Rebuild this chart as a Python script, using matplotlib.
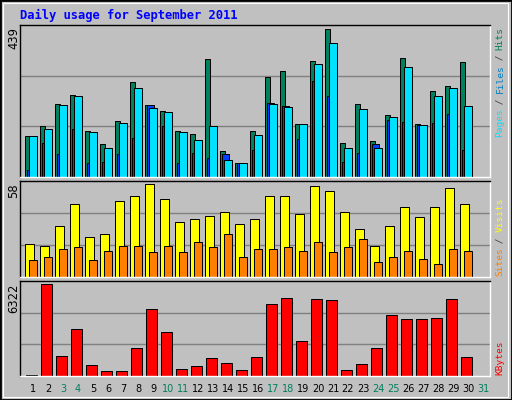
import matplotlib
matplotlib.use("Agg")
import matplotlib.pyplot as plt
from matplotlib.patches import Rectangle
import numpy as np

days = list(range(1, 32))
weekend = [3, 4, 10, 11, 17, 18, 24, 25, 31]
hits = [118,146,210,238,134,94,163,273,207,192,134,125,340,76,41,134,288,305,154,334,427,97,212,105,178,343,154,247,264,331,0]
files = [117,140,207,233,131,85,157,256,198,189,131,108,146,50,39,120,212,201,152,325,386,85,195,85,172,319,149,235,256,204,0]
pages = [21,97,65,140,39,44,65,114,207,146,39,68,56,65,39,79,215,204,111,276,235,44,68,94,166,160,149,157,183,79,0]
visits = [20,19,31,44,24,26,46,49,56,47,33,35,37,39,32,35,49,49,38,55,52,39,29,19,31,42,36,42,54,44,0]
sites = [10,12,17,18,10,16,19,19,15,19,15,21,18,26,12,17,17,18,16,21,15,18,23,9,12,16,11,8,17,16,0]
kbytes = [89,6099,1358,3161,757,356,356,1892,4430,2961,490,690,1224,890,423,1291,4764,5164,2360,5098,5031,423,824,1892,4029,3762,3762,3829,5098,1291,0]
max_hits, max_visits, max_kb = 439, 58, 6322

W, H = 512, 400
fig = plt.figure(figsize=(W/100, H/100), dpi=100, facecolor="#c0c0c0")
bg = "#c0c0c0"
mono = "DejaVu Sans Mono"

def fx(px): return px / W
def fy(py): return 1 - py / H

# frame
fig.patches.append(Rectangle((0, 0), 1, 1, transform=fig.transFigure, fill=False, ec="black", lw=2))
fig.patches.append(Rectangle((fx(3), fy(397)), fx(505), 394/H, transform=fig.transFigure, fill=False, ec="white", lw=0.8))

x = np.arange(31)
ew = 0.72

def mkax(top, bot, ymax):
    ax = fig.add_axes([fx(20), fy(bot), fx(470), (bot - top)/H])
    ax.set_facecolor(bg)
    ax.set_xlim(0, 470/15)
    ax.set_ylim(0, ymax)
    ax.set_xticks([]); ax.set_yticks([])
    for y in (ymax/3, 2*ymax/3):
        ax.axhline(y, color="#808080", lw=1, zorder=0)
    for s in ("left", "top"):
        ax.spines[s].set_color("black")
    for s in ("right", "bottom"):
        ax.spines[s].set_color("white")
    for s in ax.spines.values():
        s.set_linewidth(1)
    return ax

def bars(ax, vals, l, r, color):
    v = np.array(vals)
    m = v > 0
    ax.bar(x[m] + l, v[m], width=r - l, align="edge", color=color, ec="black", lw=ew, zorder=2)

ax1 = mkax(25, 177, max_hits)
bars(ax1, hits, 0.35, 0.67, "#00805c")
bars(ax1, pages, 0.49, 0.90, "#0040ff")
bars(ax1, files, 0.62, 1.11, "#00e0ff")

ax2 = mkax(181, 277, max_visits)
bars(ax2, visits, 0.35, 0.91, "#ffff00")
bars(ax2, sites, 0.62, 1.11, "#ff8000")

ax3 = mkax(281, 376, max_kb)
bars(ax3, kbytes, 0.40, 1.12, "#ff0000")

# title
fig.text(fx(20), fy(15), "Daily usage for September 2011", color="#0000ff", family=mono,
         weight="bold", fontsize=8.7, ha="left", va="center")

# left max labels
for txt, top in (("439", 27), ("58", 183), ("6322", 284)):
    fig.text(fx(14), fy(top), txt, rotation=90, ha="center", va="top", fontsize=8.3, color="black")

# right legends
cw = 5.45
def legend(pieces, bottom):
    pos = 0
    for txt, col in pieces:
        fig.text(fx(500), fy(bottom - pos*cw), txt, rotation=90, ha="center", va="bottom",
                 family=mono, fontsize=6.8, color=col)
        pos += len(txt)

legend([("Pages", "#00e0ff"), (" / ", "#404040"), ("Files", "#0080c0"), (" / ", "#404040"), ("Hits", "#00805c")], 137)
legend([("Sites", "#ff8000"), (" / ", "#404040"), ("Visits", "#ffff00")], 276)
legend([("KBytes", "#ff0000")], 375)

# day labels
for d in days:
    col = "#00805c" if d in weekend else "black"
    px = 20 + (d - 1)*15 + 13
    fig.text(fx(px), fy(389), str(d), ha="center", va="center", fontsize=7, color=col)

fig.savefig("out.png", dpi=100, facecolor=fig.get_facecolor())
